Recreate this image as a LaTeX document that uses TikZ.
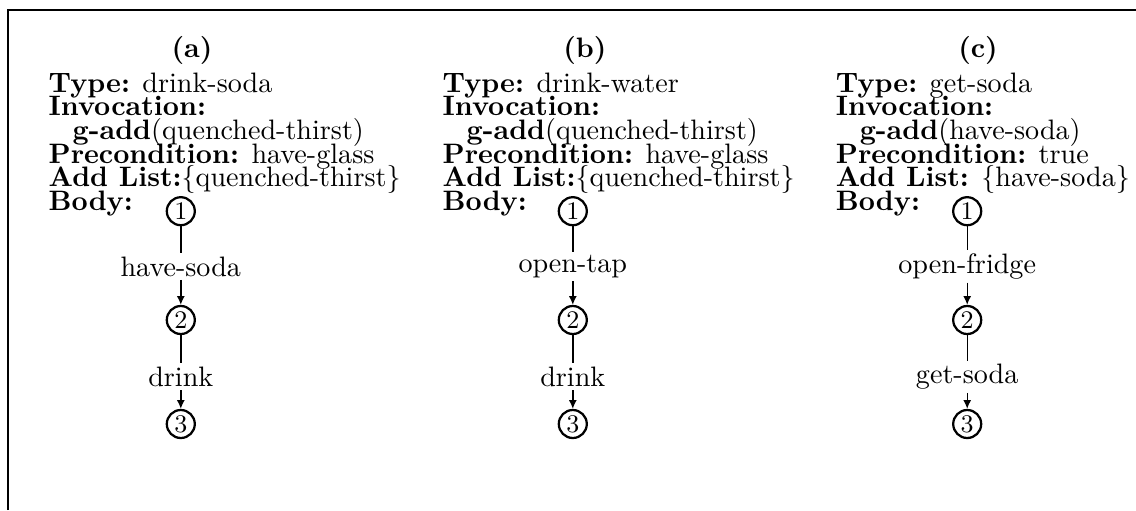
\documentclass[tikz,border=0pt]{standalone}
\usetikzlibrary{arrows.meta, positioning}
\newcommand\tightlines{\fontsize{10}{8.4}\selectfont\lineskiplimit=-20pt\relax}
\tikzset{
  every picture/.style={line width=0.5pt},
  head/.style={font=\bfseries, inner sep=0pt},
  spec/.style={anchor=north west, align=left, inner sep=0pt, font=\tightlines},
  stnode/.style={circle, draw, line width=0.8pt, minimum size=0.35cm, inner sep=0pt, font=\small},
  act/.style={inner sep=1pt},
  arrow/.style={-{Latex[length=1.1mm, width=1mm]}},
}
\begin{document}
\begin{tikzpicture}
  \useasboundingbox (0,0) rectangle (14.2,-6.375);
  % frame
  \draw[line width=0.9pt] (0.1,-6.375) -- (0.1,-0.125) -- (14.2,-0.125);
  % (a) drink-soda
  \node[head] (ha) at (2.4,-0.625) {(a)};
  \node[spec] (sa) at (0.6,-0.9) {\textbf{Type:} drink-soda\\
    \textbf{Invocation:}\\
    \hspace*{0.85em}\textbf{g-add}(quenched-thirst)\\
    \textbf{Precondition:} have-glass\\
    \textbf{Add List:}\{quenched-thirst\}\\
    \textbf{Body:}};
  \node[stnode] (a1) at (2.26,-2.64) {1};
  \node[act] (a12) at (2.26,-3.33) {have-soda};
  \node[stnode] (a2) at (2.26,-4.0) {2};
  \node[act] (a23) at (2.26,-4.71) {drink};
  \node[stnode] (a3) at (2.26,-5.3) {3};
  % (b) drink-water
  \node[head] (hb) at (7.31,-0.625) {(b)};
  \node[spec] (sb) at (5.525,-0.9) {\textbf{Type:} drink-water\\
    \textbf{Invocation:}\\
    \hspace*{0.85em}\textbf{g-add}(quenched-thirst)\\
    \textbf{Precondition:} have-glass\\
    \textbf{Add List:}\{quenched-thirst\}\\
    \textbf{Body:}};
  \node[stnode] (b1) at (7.16,-2.64) {1};
  \node[act] (b12) at (7.16,-3.33) {open-tap};
  \node[stnode] (b2) at (7.16,-4.0) {2};
  \node[act] (b23) at (7.16,-4.71) {drink};
  \node[stnode] (b3) at (7.16,-5.3) {3};
  % (c) get-soda
  \node[head] (hc) at (12.225,-0.625) {(c)};
  \node[spec] (sc) at (10.44,-0.9) {\textbf{Type:} get-soda\\
    \textbf{Invocation:}\\
    \hspace*{0.85em}\textbf{g-add}(have-soda)\\
    \textbf{Precondition:} true\\
    \textbf{Add List:} \{have-soda\}\\
    \textbf{Body:}};
  \node[stnode] (c1) at (12.09,-2.64) {1};
  \node[act] (c12) at (12.09,-3.33) {open-fridge};
  \node[stnode] (c2) at (12.09,-4.0) {2};
  \node[act] (c23) at (12.09,-4.71) {get-soda};
  \node[stnode] (c3) at (12.09,-5.3) {3};
  % body edges
  \foreach \c in {a,b,c} {
    \draw (\c1) -- (\c12);
    \draw[arrow] (\c12) -- (\c2);
    \draw (\c2) -- (\c23);
    \draw[arrow] (\c23) -- (\c3);
  }
\end{tikzpicture}
\end{document}
